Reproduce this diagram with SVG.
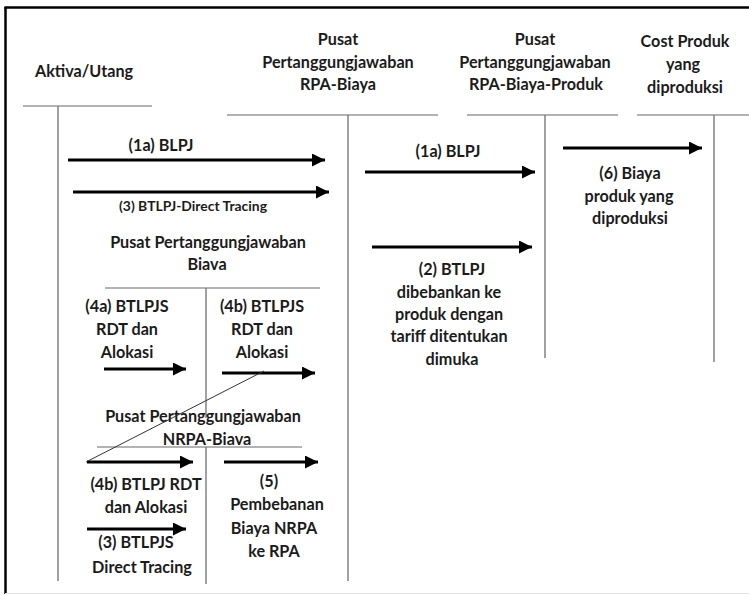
<svg xmlns="http://www.w3.org/2000/svg" width="749" height="595" viewBox="0 0 749 595">
  <style>
    text { font-family: "Lato", "Liberation Sans", sans-serif; font-weight: 700; font-size: 16.2px; fill: #1b1b1b; text-anchor: middle; }
    text.sm { font-size: 13.9px; }
    .rule { stroke: #9a9a9a; stroke-width: 1.6; fill: none; }
    .lane { stroke: #7a7a7a; stroke-width: 1.4; fill: none; }
    .arrow { stroke: #000; stroke-width: 3; fill: none; marker-end: url(#head); }
    .thin { stroke: #333; stroke-width: 1; fill: none; }
  </style>
  <defs>
    <marker id="head" markerUnits="userSpaceOnUse" markerWidth="13" markerHeight="13" refX="13" refY="6.5" orient="auto">
      <path d="M0,0 L13,6.5 L0,13 z" fill="#000"/>
    </marker>
  </defs>

  <rect width="749" height="595" fill="#fff"/>

  <!-- outer frame -->
  <g id="frame">
    <line x1="5.5" y1="7" x2="5.5" y2="594" stroke="#000" stroke-width="2.5"/>
    <line x1="4.5" y1="7.5" x2="749" y2="7.5" stroke="#000" stroke-width="2.5"/>
    <line x1="5" y1="593.5" x2="749" y2="593.5" stroke="#e4e4e4" stroke-width="1"/>
  </g>

  <!-- column heads -->
  <g id="col-aktiva">
    <text x="84" y="77">Aktiva/Utang</text>
    <line class="rule" x1="23" y1="106" x2="152" y2="106"/>
    <line class="lane" x1="58" y1="106" x2="58" y2="581"/>
  </g>
  <g id="col-rpa-biaya">
    <text x="338" y="45">Pusat</text>
    <text x="338" y="68">Pertanggungjawaban</text>
    <text x="338" y="90">RPA-Biaya</text>
    <line class="rule" x1="227" y1="115" x2="438" y2="115"/>
    <line class="lane" x1="348" y1="115" x2="348" y2="581"/>
  </g>
  <g id="col-rpa-produk">
    <text x="535" y="45">Pusat</text>
    <text x="535" y="68">Pertanggungjawaban</text>
    <text x="536" y="90">RPA-Biaya-Produk</text>
    <line class="rule" x1="467" y1="115" x2="618" y2="115"/>
    <line class="lane" x1="545" y1="115" x2="545" y2="358"/>
  </g>
  <g id="col-cost">
    <text x="685" y="47">Cost Produk</text>
    <text x="683" y="70">yang</text>
    <text x="685" y="93">diproduksi</text>
    <line class="rule" x1="637" y1="115" x2="749" y2="115"/>
    <line class="lane" x1="714" y1="115" x2="714" y2="362"/>
  </g>

  <!-- inner panel: service responsibility centres -->
  <g id="pusat-biaya">
    <text x="208" y="248">Pusat Pertanggungjawaban</text>
    <text x="207" y="270">Biava</text>
    <line class="rule" x1="105" y1="288" x2="320" y2="288"/>
    <line class="lane" x1="206" y1="288" x2="206" y2="418"/>
  </g>
  <g id="pusat-nrpa">
    <text x="203" y="422">Pusat Pertanggungjawaban</text>
    <text x="207" y="445">NRPA-Biava</text>
    <line class="rule" x1="97" y1="447" x2="302" y2="447"/>
    <line class="lane" x1="206" y1="447" x2="206" y2="584"/>
  </g>

  <!-- connectors -->
  <g id="connectors">
    <line class="arrow" x1="68" y1="160" x2="325" y2="160"/>
    <line class="arrow" x1="73" y1="192" x2="329" y2="192"/>
    <line class="arrow" x1="365" y1="172" x2="535" y2="172"/>
    <line class="arrow" x1="372" y1="247" x2="532" y2="247"/>
    <line class="arrow" x1="563" y1="148" x2="702" y2="148"/>
    <line class="arrow" x1="104" y1="369" x2="186" y2="369"/>
    <line class="arrow" x1="222" y1="373" x2="315" y2="373"/>
    <line class="arrow" x1="87" y1="462" x2="193" y2="462"/>
    <line class="arrow" x1="224" y1="462" x2="318" y2="462"/>
    <line class="arrow" x1="87" y1="529" x2="186" y2="529"/>
    <line class="thin" x1="86" y1="462" x2="264" y2="371"/>
  </g>

  <!-- flow labels -->
  <g id="lbl-1a-left"><text x="161" y="151">(1a) BLPJ</text></g>
  <g id="lbl-3-top"><text class="sm" x="193" y="211">(3) BTLPJ-Direct Tracing</text></g>
  <g id="lbl-1a-right"><text x="448" y="157">(1a) BLPJ</text></g>
  <g id="lbl-6">
    <text x="630" y="179">(6) Biaya</text>
    <text x="629" y="202">produk yang</text>
    <text x="630" y="224">diproduksi</text>
  </g>
  <g id="lbl-2">
    <text x="452" y="275">(2) BTLPJ</text>
    <text x="449" y="298">dibebankan ke</text>
    <text x="449" y="320">produk dengan</text>
    <text x="449" y="342">tariff ditentukan</text>
    <text x="452" y="365">dimuka</text>
  </g>
  <g id="lbl-4a">
    <text x="127" y="312">(4a) BTLPJS</text>
    <text x="127" y="335">RDT dan</text>
    <text x="127" y="358">Alokasi</text>
  </g>
  <g id="lbl-4b-top">
    <text x="262" y="312">(4b) BTLPJS</text>
    <text x="262" y="335">RDT dan</text>
    <text x="262" y="358">Alokasi</text>
  </g>
  <g id="lbl-4b-bottom">
    <text x="146" y="490">(4b) BTLPJ RDT</text>
    <text x="146" y="513">dan Alokasi</text>
  </g>
  <g id="lbl-3-bottom">
    <text x="136" y="548">(3) BTLPJS</text>
    <text x="142" y="573">Direct Tracing</text>
  </g>
  <g id="lbl-5">
    <text x="269" y="487">(5)</text>
    <text x="277" y="510">Pembebanan</text>
    <text x="274" y="534">Biaya NRPA</text>
    <text x="274" y="557">ke RPA</text>
  </g>
</svg>
